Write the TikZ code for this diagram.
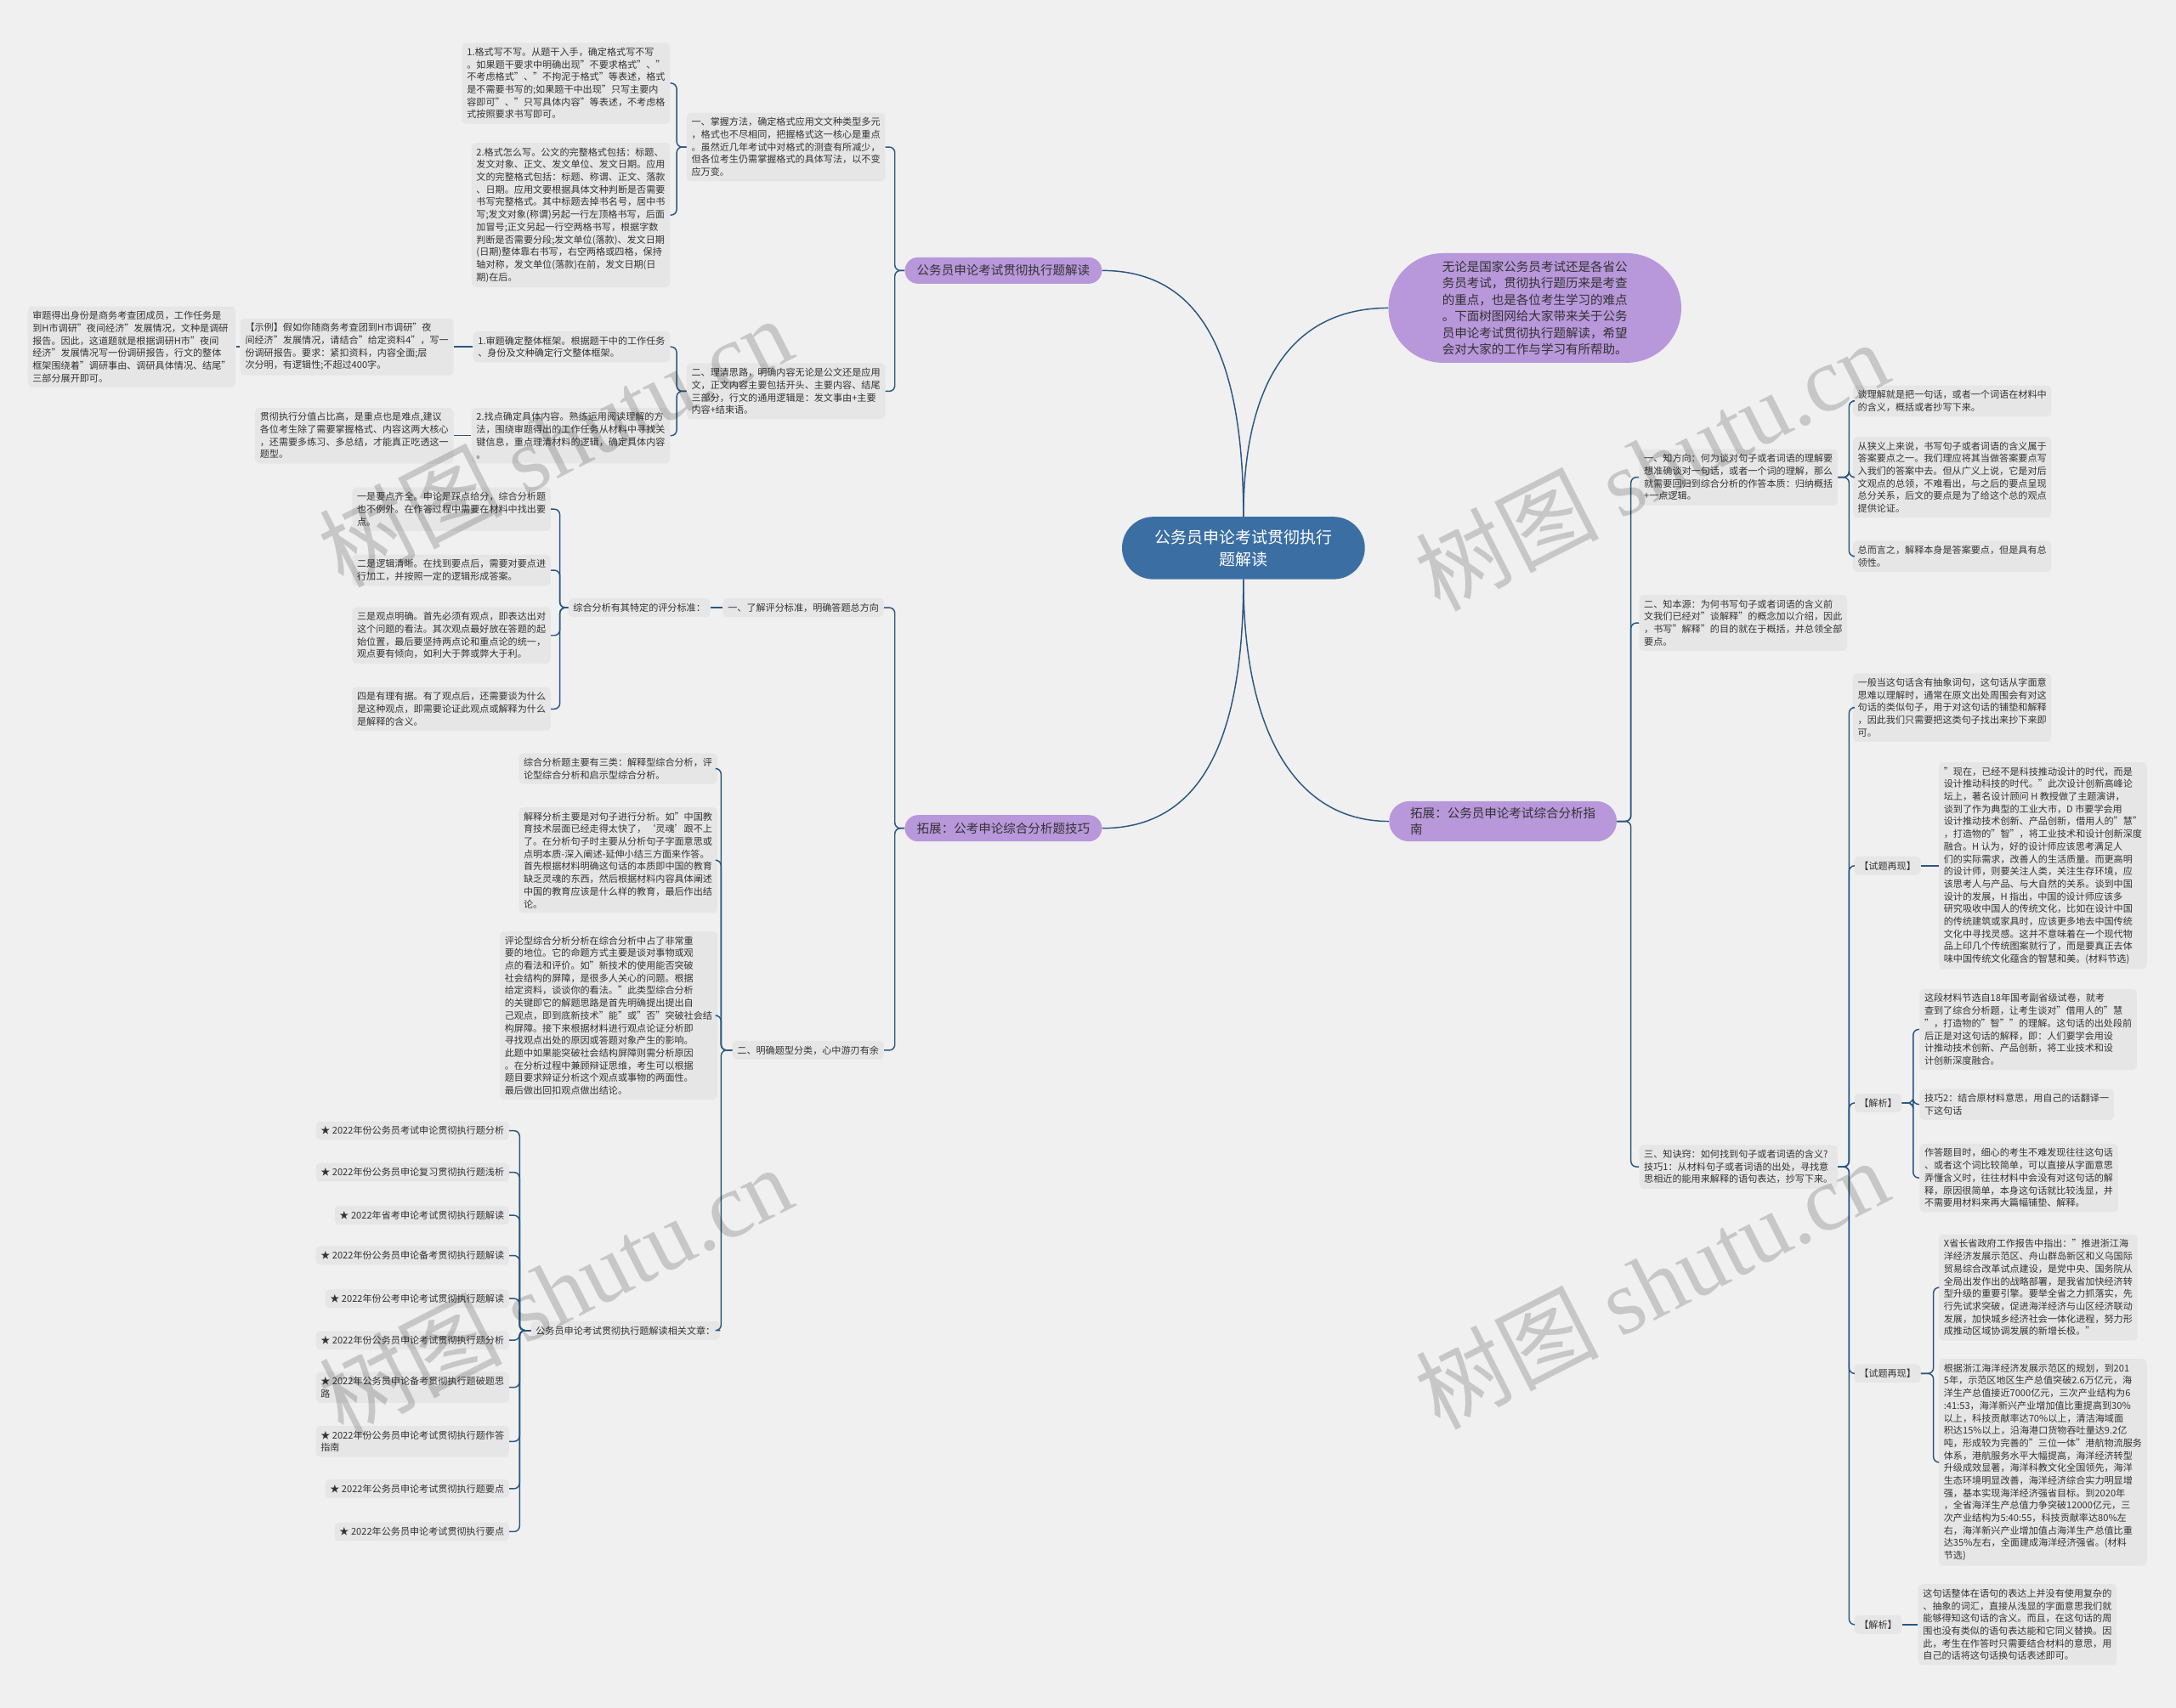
\documentclass[tikz,border=0pt]{standalone}
\usepackage{fontspec}
\setmainfont{Noto Sans CJK SC}
\newfontfamily\wmserif{Liberation Serif}
\usetikzlibrary{shapes.misc}

\definecolor{bgcol}{HTML}{F0F0F0}
\definecolor{boxgrey}{HTML}{E6E6E6}
\definecolor{txt}{HTML}{333333}
\definecolor{linkblue}{HTML}{2A5783}
\definecolor{rootblue}{HTML}{3B6FA3}
\definecolor{topicpurple}{HTML}{B897DA}

\begin{document}
\begin{tikzpicture}[x=1pt, y=-1pt,
    note/.style={rectangle, rounded corners=3pt, fill=boxgrey, text=txt, font=\fontsize{6.8}{9}\selectfont, align=left, inner xsep=3.5pt, inner ysep=3.5pt},
    topic/.style={rounded rectangle, fill=topicpurple, text=txt, font=\fontsize{8.9}{12}\selectfont, align=center, inner xsep=1pt, inner ysep=4pt, minimum height=19pt, minimum width=144pt},
    rootnode/.style={rounded rectangle, fill=rootblue, text=white, font=\fontsize{11.6}{16}\selectfont, align=center, inner xsep=1pt, minimum height=45pt, minimum width=177pt},
    conn/.style={draw=linkblue, line width=0.9pt, rounded corners=4pt},
    wmark/.style={rotate=27, text=black, text opacity=0.17, font=\fontsize{66}{66}\selectfont}]

      \useasboundingbox (0,0) rectangle (1568,1231);
      \fill[bgcol] (0,0) rectangle (1568,1231);

      \node[rootnode] (root) at (896,395) {公务员申论考试贯彻执行\\题解读};
      \node[topic] (jiedu) at (723,195) {公务员申论考试贯彻执行题解读};
      \node[topic] (jiqiao) at (723,597) {拓展：公考申论综合分析题技巧};
      \node[topic, align=left, minimum height=29pt, minimum width=166pt] (zhinan) at (1083,592) {拓展：公务员申论考试综合分析指\\南};
      \node[topic, align=left, minimum height=79pt, minimum width=213pt] (intro) at (1106,222) {无论是国家公务员考试还是各省公\\务员考试，贯彻执行题历来是考查\\的重点，也是各位考生学习的难点\\。下面树图网给大家带来关于公务\\员申论考试贯彻执行题解读，希望\\会对大家的工作与学习有所帮助。};

      % left top branch
      \node[note, anchor=east] (fangfa) at (638,106) {一、掌握方法，确定格式应用文文种类型多元\\，格式也不尽相同，把握格式这一核心是重点\\。虽然近几年考试中对格式的测查有所减少，\\但各位考生仍需掌握格式的具体写法，以不变\\应万变。};
      \node[note, anchor=east] (geshia) at (483,60) {1.格式写不写。从题干入手，确定格式写不写\\。如果题干要求中明确出现"不要求格式"、"\\不考虑格式"、"不拘泥于格式"等表述，格式\\是不需要书写的;如果题干中出现"只写主要内\\容即可"、"只写具体内容"等表述，不考虑格\\式按照要求书写即可。};
      \node[note, anchor=east] (geshib) at (483,155) {2.格式怎么写。公文的完整格式包括：标题、\\发文对象、正文、发文单位、发文日期。应用\\文的完整格式包括：标题、称谓、正文、落款\\、日期。应用文要根据具体文种判断是否需要\\书写完整格式。其中标题去掉书名号，居中书\\写;发文对象(称谓)另起一行左顶格书写，后面\\加冒号;正文另起一行空两格书写，根据字数\\判断是否需要分段;发文单位(落款)、发文日期\\(日期)整体靠右书写，右空两格或四格，保持\\轴对称，发文单位(落款)在前，发文日期(日\\期)在后。};
      \node[note, anchor=east] (silu) at (638,282) {二、理清思路，明确内容无论是公文还是应用\\文，正文内容主要包括开头、主要内容、结尾\\三部分，行文的通用逻辑是：发文事由+主要\\内容+结束语。};
      \node[note, anchor=east] (kuangjia) at (483,250) {1.审题确定整体框架。根据题干中的工作任务\\、身份及文种确定行文整体框架。};
      \node[note, anchor=east] (shili) at (327,250) {【示例】假如你随商务考查团到H市调研"夜\\间经济"发展情况，请结合"给定资料4"，写一\\份调研报告。要求：紧扣资料，内容全面;层\\次分明，有逻辑性;不超过400字。};
      \node[note, anchor=east] (shenti) at (170,250) {审题得出身份是商务考查团成员，工作任务是\\到H市调研"夜间经济"发展情况，文种是调研\\报告。因此，这道题就是根据调研H市"夜间\\经济"发展情况写一份调研报告，行文的整体\\框架围绕着"调研事由、调研具体情况、结尾"\\三部分展开即可。};
      \node[note, anchor=east] (zhaodian) at (483,314) {2.找点确定具体内容。熟练运用阅读理解的方\\法，围绕审题得出的工作任务从材料中寻找关\\键信息，重点理清材料的逻辑，确定具体内容\\。};
      \node[note, anchor=east] (fenzhi) at (327,314) {贯彻执行分值占比高，是重点也是难点,建议\\各位考生除了需要掌握格式、内容这两大核心\\，还需要多练习、多总结，才能真正吃透这一\\题型。};

      % left bottom branch
      \node[note, anchor=east] (biaozhun) at (637,438) {一、了解评分标准，明确答题总方向};
      \node[note, anchor=east] (tedingbz) at (512,438) {综合分析有其特定的评分标准：};
      \node[note, anchor=east] (yaodian) at (397,367) {一是要点齐全。申论是踩点给分，综合分析题\\也不例外。在作答过程中需要在材料中找出要\\点。};
      \node[note, anchor=east] (luoji) at (397,411) {二是逻辑清晰。在找到要点后，需要对要点进\\行加工，并按照一定的逻辑形成答案。};
      \node[note, anchor=east] (guandian) at (397,458) {三是观点明确。首先必须有观点，即表达出对\\这个问题的看法。其次观点最好放在答题的起\\始位置，最后要坚持两点论和重点论的统一，\\观点要有倾向，如利大于弊或弊大于利。};
      \node[note, anchor=east] (youli) at (397,511) {四是有理有据。有了观点后，还需要谈为什么\\是这种观点，即需要论证此观点或解释为什么\\是解释的含义。};

      \node[note, anchor=east] (tixing) at (637,757) {二、明确题型分类，心中游刃有余};
      \node[note, anchor=east] (sanlei) at (517,554) {综合分析题主要有三类：解释型综合分析，评\\论型综合分析和启示型综合分析。};
      \node[note, anchor=east] (jieshi) at (517,620) {解释分析主要是对句子进行分析。如"中国教\\育技术层面已经走得太快了，‘灵魂’跟不上\\了。在分析句子时主要从分析句子字面意思或\\点明本质-深入阐述-延伸小结三方面来作答。\\首先根据材料明确这句话的本质即中国的教育\\缺乏灵魂的东西，然后根据材料内容具体阐述\\中国的教育应该是什么样的教育，最后作出结\\论。};
      \node[note, anchor=east] (pinglun) at (517,732) {评论型综合分析分析在综合分析中占了非常重\\要的地位。它的命题方式主要是谈对事物或观\\点的看法和评价。如"新技术的使用能否突破\\社会结构的屏障，是很多人关心的问题。根据\\给定资料，谈谈你的看法。"此类型综合分析\\的关键即它的解题思路是首先明确提出提出自\\己观点，即到底新技术"能"或"否"突破社会结\\构屏障。接下来根据材料进行观点论证分析即\\寻找观点出处的原因或答题对象产生的影响。\\此题中如果能突破社会结构屏障则需分析原因\\。在分析过程中兼顾辩证思维，考生可以根据\\题目要求辩证分析这个观点或事物的两面性。\\最后做出回扣观点做出结论。};
      \node[note, anchor=east] (xiangguan) at (519,959) {公务员申论考试贯彻执行题解读相关文章：};

      \node[note, anchor=east] (wza) at (367,815) {★ 2022年份公务员考试申论贯彻执行题分析};
      \node[note, anchor=east] (wzb) at (367,845) {★ 2022年份公务员申论复习贯彻执行题浅析};
      \node[note, anchor=east] (wzc) at (367,876) {★ 2022年省考申论考试贯彻执行题解读};
      \node[note, anchor=east] (wzd) at (367,905) {★ 2022年份公务员申论备考贯彻执行题解读};
      \node[note, anchor=east] (wze) at (367,936) {★ 2022年份公考申论考试贯彻执行题解读};
      \node[note, anchor=east] (wzf) at (367,966) {★ 2022年份公务员申论考试贯彻执行题分析};
      \node[note, anchor=east] (wzg) at (367,1000) {★ 2022年公务员申论备考贯彻执行题破题思\\路};
      \node[note, anchor=east] (wzh) at (367,1039) {★ 2022年份公务员申论考试贯彻执行题作答\\指南};
      \node[note, anchor=east] (wzi) at (367,1073) {★ 2022年公务员申论考试贯彻执行题要点};
      \node[note, anchor=east] (wzj) at (367,1104) {★ 2022年公务员申论考试贯彻执行要点};

      % right branch
      \node[note, anchor=west] (fangxiang) at (1181,344) {一、知方向：何为谈对句子或者词语的理解要\\想准确谈对一句话，或者一个词的理解，那么\\就需要回归到综合分析的作答本质：归纳概括\\+一点逻辑。};
      \node[note, anchor=west] (lijie) at (1335,289) {谈理解就是把一句话，或者一个词语在材料中\\的含义，概括或者抄写下来。};
      \node[note, anchor=west] (xiayi) at (1335,344) {从狭义上来说，书写句子或者词语的含义属于\\答案要点之一。我们理应将其当做答案要点写\\入我们的答案中去。但从广义上说，它是对后\\文观点的总领，不难看出，与之后的要点呈现\\总分关系，后文的要点是为了给这个总的观点\\提供论证。};
      \node[note, anchor=west] (zonger) at (1335,401) {总而言之，解释本身是答案要点，但是具有总\\领性。};
      \node[note, anchor=west] (benyuan) at (1181,449) {二、知本源：为何书写句子或者词语的含义前\\文我们已经对"谈解释"的概念加以介绍，因此\\，书写"解释"的目的就在于概括，并总领全部\\要点。};
      \node[note, anchor=west] (juegiao) at (1181,841) {三、知诀窍：如何找到句子或者词语的含义?\\技巧1：从材料句子或者词语的出处，寻找意\\思相近的能用来解释的语句表达，抄写下来。};

      \node[note, anchor=west] (chouxiang) at (1335,510) {一般当这句话含有抽象词句，这句话从字面意\\思难以理解时，通常在原文出处周围会有对这\\句话的类似句子，用于对这句话的铺垫和解释\\，因此我们只需要把这类句子找出来抄下来即\\可。};
      \node[note, anchor=west] (zaixiana) at (1336,624) {【试题再现】};
      \node[note, anchor=west] (sheji) at (1397,624) {"现在，已经不是科技推动设计的时代，而是\\设计推动科技的时代。"此次设计创新高峰论\\坛上，著名设计顾问 H 教授做了主题演讲，\\谈到了作为典型的工业大市，D 市要学会用\\设计推动技术创新、产品创新，借用人的"慧"\\，打造物的"智"，将工业技术和设计创新深度\\融合。H 认为，好的设计师应该思考满足人\\们的实际需求，改善人的生活质量。而更高明\\的设计师，则要关注人类，关注生存环境，应\\该思考人与产品、与大自然的关系。谈到中国\\设计的发展，H 指出，中国的设计师应该多\\研究吸收中国人的传统文化，比如在设计中国\\的传统建筑或家具时，应该更多地去中国传统\\文化中寻找灵感。这并不意味着在一个现代物\\品上印几个传统图案就行了，而是要真正去体\\味中国传统文化蕴含的智慧和美。(材料节选)};
      \node[note, anchor=west] (jiexia) at (1336,795) {【解析】};
      \node[note, anchor=west] (jiexiaa) at (1383,742) {这段材料节选自18年国考副省级试卷，就考\\查到了综合分析题，让考生谈对"借用人的"慧\\"，打造物的"智""的理解。这句话的出处段前\\后正是对这句话的解释，即：人们要学会用设\\计推动技术创新、产品创新，将工业技术和设\\计创新深度融合。};
      \node[note, anchor=west] (jiexiab) at (1383,796) {技巧2：结合原材料意思，用自己的话翻译一\\下这句话};
      \node[note, anchor=west] (jiexiac) at (1383,849) {作答题目时，细心的考生不难发现往往这句话\\、或者这个词比较简单，可以直接从字面意思\\弄懂含义时，往往材料中会没有对这句话的解\\释，原因很简单，本身这句话就比较浅显，并\\不需要用材料来再大篇幅铺垫、解释。};
      \node[note, anchor=west] (zaixianb) at (1336,990) {【试题再现】};
      \node[note, anchor=west] (haiyanga) at (1397,928) {X省长省政府工作报告中指出："推进浙江海\\洋经济发展示范区、舟山群岛新区和义乌国际\\贸易综合改革试点建设，是党中央、国务院从\\全局出发作出的战略部署，是我省加快经济转\\型升级的重要引擎。要举全省之力抓落实，先\\行先试求突破，促进海洋经济与山区经济联动\\发展，加快城乡经济社会一体化进程，努力形\\成推动区域协调发展的新增长极。"};
      \node[note, anchor=west] (haiyangb) at (1397,1054) {根据浙江海洋经济发展示范区的规划，到201\\5年，示范区地区生产总值突破2.6万亿元，海\\洋生产总值接近7000亿元，三次产业结构为6\\:41:53，海洋新兴产业增加值比重提高到30\%\\以上，科技贡献率达70\%以上，清洁海域面\\积达15\%以上，沿海港口货物吞吐量达9.2亿\\吨，形成较为完善的"三位一体"港航物流服务\\体系，港航服务水平大幅提高，海洋经济转型\\升级成效显著，海洋科教文化全国领先，海洋\\生态环境明显改善，海洋经济综合实力明显增\\强，基本实现海洋经济强省目标。到2020年\\，全省海洋生产总值力争突破12000亿元，三\\次产业结构为5:40:55，科技贡献率达80\%左\\右，海洋新兴产业增加值占海洋生产总值比重\\达35\%左右，全面建成海洋经济强省。(材料\\节选)};
      \node[note, anchor=west] (jiexib) at (1336,1171) {【解析】};
      \node[note, anchor=west] (jiexiba) at (1382,1171) {这句话整体在语句的表达上并没有使用复杂的\\、抽象的词汇，直接从浅显的字面意思我们就\\能够得知这句话的含义。而且，在这句话的周\\围也没有类似的语句表达能和它同义替换。因\\此，考生在作答时只需要结合材料的意思，用\\自己的话将这句话换句话表述即可。};

      % connectors
      \draw[conn] (root.north) .. controls (896,250) and (862,195) .. (jiedu.east);
      \draw[conn] (root.north) .. controls (896,270) and (935,222) .. (intro.west);
      \draw[conn] (root.south) .. controls (896,540) and (862,597) .. (jiqiao.east);
      \draw[conn] (root.south) .. controls (896,530) and (935,592) .. (zhinan.west);

      \draw[conn] (jiedu.west) -- ++(-7,0) |- (fangfa.east);
      \draw[conn] (jiedu.west) -- ++(-7,0) |- (silu.east);
      \draw[conn] (fangfa.west) -- ++(-7,0) |- (geshia.east);
      \draw[conn] (fangfa.west) -- ++(-7,0) |- (geshib.east);
      \draw[conn] (silu.west) -- ++(-7,0) |- (kuangjia.east);
      \draw[conn] (silu.west) -- ++(-7,0) |- (zhaodian.east);
      \draw[conn] (kuangjia.west) -- (shili.east);
      \draw[conn] (shili.west) -- (shenti.east);
      \draw[conn] (zhaodian.west) -- (fenzhi.east);

      \draw[conn] (jiqiao.west) -- ++(-7,0) |- (biaozhun.east);
      \draw[conn] (jiqiao.west) -- ++(-7,0) |- (tixing.east);
      \draw[conn] (biaozhun.west) -- (tedingbz.east);
      \draw[conn] (tedingbz.west) -- ++(-6,0) |- (yaodian.east);
      \draw[conn] (tedingbz.west) -- ++(-6,0) |- (luoji.east);
      \draw[conn] (tedingbz.west) -- ++(-6,0) |- (guandian.east);
      \draw[conn] (tedingbz.west) -- ++(-6,0) |- (youli.east);
      \draw[conn] (tixing.west) -- ++(-8,0) |- (sanlei.east);
      \draw[conn] (tixing.west) -- ++(-8,0) |- (jieshi.east);
      \draw[conn] (tixing.west) -- ++(-8,0) |- (pinglun.east);
      \draw[conn] (tixing.west) -- ++(-8,0) |- (xiangguan.east);
      \draw[conn] (xiangguan.west) -- ++(-8,0) |- (wza.east);
      \draw[conn] (xiangguan.west) -- ++(-8,0) |- (wzb.east);
      \draw[conn] (xiangguan.west) -- ++(-8,0) |- (wzc.east);
      \draw[conn] (xiangguan.west) -- ++(-8,0) |- (wzd.east);
      \draw[conn] (xiangguan.west) -- ++(-8,0) |- (wze.east);
      \draw[conn] (xiangguan.west) -- ++(-8,0) |- (wzf.east);
      \draw[conn] (xiangguan.west) -- ++(-8,0) |- (wzg.east);
      \draw[conn] (xiangguan.west) -- ++(-8,0) |- (wzh.east);
      \draw[conn] (xiangguan.west) -- ++(-8,0) |- (wzi.east);
      \draw[conn] (xiangguan.west) -- ++(-8,0) |- (wzj.east);

      \draw[conn] (zhinan.east) -- ++(10,0) |- (fangxiang.west);
      \draw[conn] (zhinan.east) -- ++(10,0) |- (benyuan.west);
      \draw[conn] (zhinan.east) -- ++(10,0) |- (juegiao.west);
      \draw[conn] (fangxiang.east) -- ++(8,0) |- (lijie.west);
      \draw[conn] (fangxiang.east) -- ++(8,0) |- (xiayi.west);
      \draw[conn] (fangxiang.east) -- ++(8,0) |- (zonger.west);
      \draw[conn] (juegiao.east) -- ++(8,0) |- (chouxiang.west);
      \draw[conn] (juegiao.east) -- ++(8,0) |- (zaixiana.west);
      \draw[conn] (juegiao.east) -- ++(8,0) |- (jiexia.west);
      \draw[conn] (juegiao.east) -- ++(8,0) |- (zaixianb.west);
      \draw[conn] (juegiao.east) -- ++(8,0) |- (jiexib.west);
      \draw[conn] (zaixiana.east) -- (sheji.west);
      \draw[conn] (jiexia.east) -- ++(8,0) |- (jiexiaa.west);
      \draw[conn] (jiexia.east) -- ++(8,0) |- (jiexiab.west);
      \draw[conn] (jiexia.east) -- ++(8,0) |- (jiexiac.west);
      \draw[conn] (zaixianb.east) -- ++(9,0) |- (haiyanga.west);
      \draw[conn] (zaixianb.east) -- ++(9,0) |- (haiyangb.west);
      \draw[conn] (jiexib.east) -- (jiexiba.west);

      % watermark
      \node[wmark] (wma) at (400,318) {树图 {\wmserif shutu.cn}};
      \node[wmark] (wmb) at (1190,335) {树图 {\wmserif shutu.cn}};
      \node[wmark] (wmc) at (400,930) {树图 {\wmserif shutu.cn}};
      \node[wmark] (wmd) at (1190,925) {树图 {\wmserif shutu.cn}};

    \end{tikzpicture}
\end{document}
